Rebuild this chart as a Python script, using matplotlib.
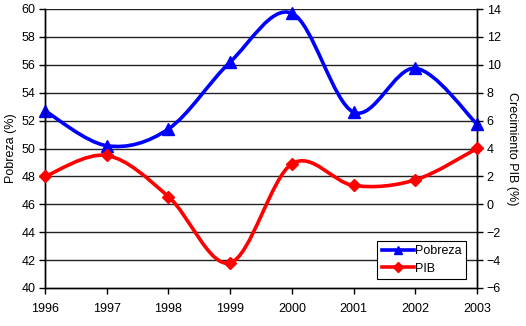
import numpy as np
import matplotlib.pyplot as plt
from matplotlib.path import Path
from matplotlib.patches import PathPatch
from matplotlib.lines import Line2D

plt.rcParams['font.family'] = ['Liberation Sans Narrow', 'Liberation Sans', 'DejaVu Sans']

years = [1996, 1997, 1998, 1999, 2000, 2001, 2002, 2003]
pobreza = [52.7, 50.2, 51.4, 56.2, 59.7, 52.6, 55.75, 51.75]
pib = [2.0, 3.5, 0.55, -4.2, 2.9, 1.35, 1.75, 4.0]
FS = 9


def smooth_path(x, y):
    # Excel-style smoothed line: cubic Bezier through the points
    x = np.asarray(x, float)
    y = np.asarray(y, float)
    n = len(x)
    verts = [(x[0], y[0])]
    codes = [Path.MOVETO]
    for i in range(n - 1):
        p0 = i - 1 if i > 0 else i
        p3 = i + 2 if i + 2 < n else i + 1
        c1 = (x[i] + (x[i + 1] - x[p0]) / 6, y[i] + (y[i + 1] - y[p0]) / 6)
        c2 = (x[i + 1] - (x[p3] - x[i]) / 6, y[i + 1] - (y[p3] - y[i]) / 6)
        verts += [c1, c2, (x[i + 1], y[i + 1])]
        codes += [Path.CURVE4] * 3
    return Path(verts, codes)


fig = plt.figure(figsize=(5.26, 3.26), dpi=100)
ax = fig.add_axes([45 / 526, 1 - 288 / 326, 432 / 526, 279 / 326])
ax2 = ax.twinx()

ax.set_xlim(1996, 2003)
ax.set_ylim(40, 60)
ax.set_yticks(range(40, 61, 2))
ax.set_xticks(years)
ax2.set_ylim(-6, 14)
ax2.set_yticks(range(-6, 15, 2))

for y in range(42, 61, 2):
    ax.axhline(y, color='#222222', lw=1.0, zorder=0)

ax.add_patch(PathPatch(smooth_path(years, pobreza), fill=False, ec='#0000ff', lw=2.6, zorder=3))
ax.plot(years, pobreza, ls='none', marker='^', ms=8, color='#0000ff', zorder=4, clip_on=False)
ax2.add_patch(PathPatch(smooth_path(years, pib), fill=False, ec='#ff0000', lw=2.6, zorder=3))
ax2.plot(years, pib, ls='none', marker='D', ms=6.5, color='#ff0000', zorder=4, clip_on=False)

for a in (ax, ax2):
    a.spines['top'].set_visible(False)
    a.tick_params(direction='out', length=4, width=1, labelsize=FS, color='black', pad=3)
    for s in a.spines.values():
        s.set_linewidth(1.0)
ax.tick_params(axis='x', pad=7)

ax.set_ylabel('Pobreza (%)', fontsize=FS, labelpad=3)
ax2.set_ylabel('Crecimiento PIB (%)', fontsize=FS, rotation=270, labelpad=12)

handles = [Line2D([], [], color='#0000ff', lw=2.6, marker='^', ms=6),
           Line2D([], [], color='#ff0000', lw=2.6, marker='D', ms=5)]
leg = ax2.legend(handles, ['Pobreza', 'PIB'], loc='lower right', bbox_to_anchor=(0.99, 0.01),
                 fontsize=FS, frameon=True, fancybox=False, framealpha=1, edgecolor='black',
                 handlelength=2.6, handletextpad=0.1, borderpad=0.35, labelspacing=0.45)
leg.get_frame().set_linewidth(0.8)

fig.savefig('out.png', dpi=100)
